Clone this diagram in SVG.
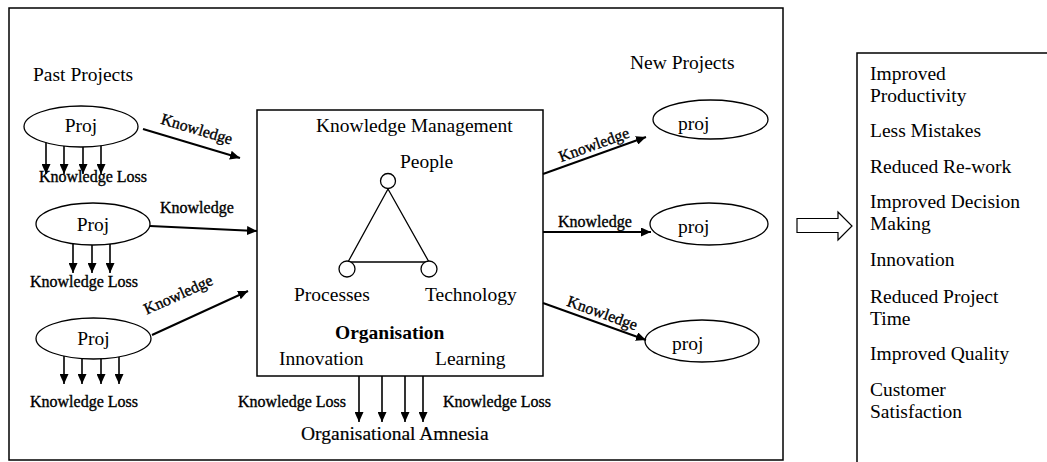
<svg xmlns="http://www.w3.org/2000/svg" width="1047" height="462" viewBox="0 0 1047 462">
  <style>
    text { font-family: "Liberation Serif", "Times New Roman", serif; fill: #000; }
    .big { font-size: 19.5px; }
    .lbl { font-size: 16px; stroke: #000; stroke-width: 0.35; }
    .mid { font-size: 19.5px; stroke: #000; stroke-width: 0.2; }
    .bold { font-weight: bold; }
    .box { fill: #fff; stroke: #000; stroke-width: 1.5; }
    .shape { fill: #fff; stroke: #000; stroke-width: 1.3; }
    .edge { fill: none; stroke: #000; stroke-width: 2; marker-end: url(#head); }
    .drop { fill: none; stroke: #000; stroke-width: 1.6; marker-end: url(#head); }
    .tri { fill: none; stroke: #000; stroke-width: 1.3; }
  </style>
  <defs>
    <marker id="head" markerUnits="userSpaceOnUse" markerWidth="10" markerHeight="9" refX="10" refY="4.5" orient="auto">
      <path d="M0,0 L10,4.5 L0,9 z" fill="#000"/>
    </marker>
  </defs>

  <rect width="1047" height="462" fill="#fff"/>

  <!-- outer frame -->
  <rect id="frame" class="box" x="9" y="8" width="774" height="452"/>

  <text class="big" x="33" y="81">Past Projects</text>
  <text class="big" x="630" y="69">New Projects</text>

  <!-- past projects -->
  <g id="past1">
    <ellipse class="shape" cx="81" cy="126.5" rx="57" ry="20.5"/>
    <text class="big" x="81" y="132" text-anchor="middle">Proj</text>
  </g>
  <g id="past2">
    <ellipse class="shape" cx="93" cy="224" rx="57" ry="21"/>
    <text class="big" x="93" y="231" text-anchor="middle">Proj</text>
  </g>
  <g id="past3">
    <ellipse class="shape" cx="93.5" cy="338.5" rx="57.5" ry="20.5"/>
    <text class="big" x="93.5" y="345" text-anchor="middle">Proj</text>
  </g>

  <!-- knowledge management block -->
  <g id="km">
    <rect class="box" x="257" y="110" width="286" height="266"/>
    <text class="big" x="316" y="132">Knowledge Management</text>
    <text class="big" x="400" y="168">People</text>
    <path class="tri" d="M388,189 L348,262 L429,262 Z"/>
    <circle class="shape" cx="388" cy="181" r="7.5"/>
    <circle class="shape" cx="347" cy="269" r="8"/>
    <circle class="shape" cx="429" cy="269" r="8"/>
    <text class="big" x="294" y="301">Processes</text>
    <text class="big" x="425" y="301">Technology</text>
    <text class="big bold" x="335" y="339">Organisation</text>
    <text class="big" x="279" y="365">Innovation</text>
    <text class="big" x="435" y="365">Learning</text>
  </g>

  <!-- new projects -->
  <g id="new1">
    <ellipse class="shape" cx="710.5" cy="119.5" rx="57.5" ry="19.5"/>
    <text class="big" x="678" y="130">proj</text>
  </g>
  <g id="new2">
    <ellipse class="shape" cx="709" cy="224" rx="59" ry="21"/>
    <text class="big" x="678" y="233">proj</text>
  </g>
  <g id="new3">
    <ellipse class="shape" cx="702" cy="341" rx="57" ry="21"/>
    <text class="big" x="672" y="350">proj</text>
  </g>

  <!-- benefits list -->
  <g id="benefits">
    <rect class="box" x="857" y="53" width="260" height="430"/>
    <text class="big" x="870" y="80">Improved</text>
    <text class="big" x="870" y="102">Productivity</text>
    <text class="big" x="870" y="137">Less Mistakes</text>
    <text class="big" x="870" y="173">Reduced Re-work</text>
    <text class="big" x="870" y="208">Improved Decision</text>
    <text class="big" x="870" y="230">Making</text>
    <text class="big" x="870" y="266">Innovation</text>
    <text class="big" x="870" y="303">Reduced Project</text>
    <text class="big" x="870" y="325">Time</text>
    <text class="big" x="870" y="360">Improved Quality</text>
    <text class="big" x="870" y="396">Customer</text>
    <text class="big" x="870" y="418">Satisfaction</text>
  </g>

  <!-- hollow arrow leading to the benefits -->
  <g id="result-arrow">
    <path d="M797,218.5 L838,218.5 L838,212 L852,226 L838,240 L838,232.5 L797,232.5 Z" fill="#fff" stroke="#000" stroke-width="1.2"/>
  </g>

  <!-- connectors -->
  <g id="connectors">
    <!-- knowledge flowing into KM -->
    <line class="edge" x1="143" y1="129" x2="240" y2="158"/>
    <line class="edge" x1="150" y1="226" x2="257" y2="231"/>
    <line class="edge" x1="152" y1="335" x2="248" y2="291"/>
    <!-- knowledge flowing out of KM -->
    <line class="edge" x1="543" y1="174" x2="646" y2="137"/>
    <line class="edge" x1="543" y1="232" x2="651" y2="232"/>
    <line class="edge" x1="543" y1="303" x2="646" y2="340"/>

    <!-- knowledge loss, project 1 -->
    <line class="drop" x1="46" y1="142.7" x2="46" y2="174"/>
    <line class="drop" x1="64" y1="146" x2="64" y2="174"/>
    <line class="drop" x1="83" y1="147" x2="83" y2="174"/>
    <line class="drop" x1="101" y1="145.7" x2="101" y2="174"/>
    <!-- knowledge loss, project 2 -->
    <line class="drop" x1="73" y1="243.7" x2="73" y2="273"/>
    <line class="drop" x1="92" y1="245" x2="92" y2="273"/>
    <line class="drop" x1="110" y1="244" x2="110" y2="273"/>
    <!-- knowledge loss, project 3 -->
    <line class="drop" x1="64" y1="356" x2="64" y2="384"/>
    <line class="drop" x1="82" y1="358.6" x2="82" y2="384"/>
    <line class="drop" x1="101" y1="358.8" x2="101" y2="384"/>
    <line class="drop" x1="119" y1="356.9" x2="119" y2="384"/>
    <!-- knowledge loss from the organisation -->
    <line class="drop" x1="359" y1="376" x2="359" y2="422"/>
    <line class="drop" x1="382" y1="376" x2="382" y2="422"/>
    <line class="drop" x1="405" y1="376" x2="405" y2="422"/>
    <line class="drop" x1="423" y1="376" x2="423" y2="422"/>

    <!-- connector labels -->
    <text class="lbl" text-anchor="middle" transform="translate(195.3,134.1) rotate(16.6)">Knowledge</text>
    <text class="lbl" x="160" y="213">Knowledge</text>
    <text class="lbl" text-anchor="middle" transform="translate(180.4,299.5) rotate(-24.6)">Knowledge</text>
    <text class="lbl" text-anchor="middle" transform="translate(595.7,149.7) rotate(-19.8)">Knowledge</text>
    <text class="lbl" x="558" y="227">Knowledge</text>
    <text class="lbl" text-anchor="middle" transform="translate(600.6,318) rotate(19.8)">Knowledge</text>

    <text class="lbl" x="39" y="182">Knowledge Loss</text>
    <text class="lbl" x="30" y="287">Knowledge Loss</text>
    <text class="lbl" x="30" y="407">Knowledge Loss</text>
    <text class="lbl" x="238" y="407">Knowledge Loss</text>
    <text class="lbl" x="443" y="407">Knowledge Loss</text>
  </g>

  <text class="mid" x="301" y="440">Organisational Amnesia</text>
</svg>
